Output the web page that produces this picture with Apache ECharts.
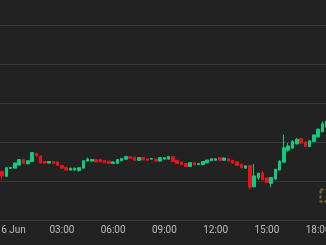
<!DOCTYPE html>
<html>
<head>
<meta charset="utf-8">
<script src="https://cdn.jsdelivr.net/npm/echarts@6/dist/echarts.min.js"></script>
<style>
html,body{margin:0;padding:0;background:#222222;}
#chart{width:326px;height:245px;}
</style>
</head>
<body>
<div id="chart"></div>
<script>
// 15-minute candles, 15 Jun 23:30 .. 16 Jun 18:30
var categories = [
"23:30","23:45",
"00:00","00:15","00:30","00:45","01:00","01:15","01:30","01:45","02:00","02:15","02:30","02:45",
"03:00","03:15","03:30","03:45","04:00","04:15","04:30","04:45","05:00","05:15","05:30","05:45",
"06:00","06:15","06:30","06:45","07:00","07:15","07:30","07:45","08:00","08:15","08:30","08:45",
"09:00","09:15","09:30","09:45","10:00","10:15","10:30","10:45","11:00","11:15","11:30","11:45",
"12:00","12:15","12:30","12:45","13:00","13:15","13:30","13:45","14:00","14:15","14:30","14:45",
"15:00","15:15","15:30","15:45","16:00","16:15","16:30","16:45","17:00","17:15","17:30","17:45",
"18:00","18:15","18:30"
];
// [open, close, low, high]
var candles = [
[12.4,11.3,10.4,12.7],[11.2,13.4,11.0,13.6],
[13.2,13.5,13.1,13.6],[13.3,14.6,13.2,14.7],[14.1,15.5,14.0,15.6],[15.5,14.5,14.4,15.6],
[14.4,15.2,14.3,15.3],[15.0,17.3,14.9,17.4],[17.1,16.4,16.3,17.2],[16.4,14.6,14.5,16.5],
[15.0,14.6,14.5,15.1],[14.6,15.0,14.5,15.1],[15.0,14.5,14.4,15.1],[14.9,14.0,13.9,15.0],
[14.0,13.3,13.2,14.1],[13.5,12.8,12.7,13.6],[12.8,13.3,12.7,13.4],[12.8,13.3,12.7,13.4],
[12.7,13.4,12.4,13.5],[13.3,15.2,13.2,15.3],[15.1,15.6,15.0,16.0],[15.1,15.5,15.0,15.6],
[15.5,14.9,14.8,15.5],[15.5,14.9,14.8,15.6],[15.3,14.7,14.6,15.3],[15.1,14.5,14.4,15.1],
[14.5,14.9,14.5,15.0],[14.5,15.5,14.5,15.6],[15.2,15.8,15.1,15.9],[15.6,16.3,15.5,16.3],
[16.2,15.8,15.8,16.3],[16.1,15.3,15.2,16.2],[15.3,16.0,15.2,16.1],[16.0,15.4,15.3,16.1],
[15.7,15.3,15.2,15.8],[15.6,15.8,15.5,15.9],[15.6,15.1,15.1,15.7],[15.1,16.0,15.0,16.0],
[15.6,16.0,15.5,16.1],[15.6,16.3,15.6,16.3],[16.2,15.0,14.9,16.3],[15.3,14.5,14.5,15.4],
[14.9,14.2,14.1,14.9],[14.5,13.7,13.6,14.6],[13.7,14.7,13.6,14.7],[14.7,14.1,14.1,14.7],
[14.2,14.5,14.1,14.5],[14.2,15.0,14.1,15.0],[14.7,15.4,14.6,15.4],[15.2,15.7,15.1,15.8],
[15.3,15.7,15.2,15.8],[16.0,15.3,15.3,16.0],[15.3,15.9,15.3,16.0],[15.7,15.1,15.0,15.8],
[15.3,14.6,14.5,15.4],[14.9,14.0,14.0,14.9],[14.3,13.4,13.3,14.4],[13.3,13.9,13.2,14.0],
[14.0,8.4,7.9,14.1],[8.5,11.3,8.4,14.4],[10.8,12.0,10.3,12.1],[12.1,10.3,10.2,12.6],
[10.8,9.6,9.5,10.9],[9.4,10.9,8.4,11.0],[10.5,13.0,10.4,13.1],[12.8,15.1,12.7,15.3],
[14.8,18.5,14.7,21.9],[17.9,19.0,17.5,19.7],[18.4,20.1,18.3,20.5],[19.5,20.7,19.4,21.0],
[20.9,19.7,19.6,21.0],[20.0,18.8,18.7,20.1],[18.8,20.3,18.7,20.4],[20.1,21.8,20.0,21.9],
[21.3,23.3,21.2,23.4],[22.6,24.7,22.6,25.3],[23.8,25.4,23.7,25.6]
];
var tickLabels = {"00:00":"16 Jun","03:00":"03:00","06:00":"06:00","09:00":"09:00","12:00":"12:00","15:00":"15:00","18:00":"18:00"};

var UP = '#0ecb81', DOWN = '#e8121a';
var chart = echarts.init(document.getElementById('chart'), null, {renderer:'canvas'});
chart.setOption({
  backgroundColor:'#222222',
  animation:false,
  grid:{left:0, right:-2.8, top:-14, bottom:25, containLabel:false, outerBoundsMode:'none'},
  xAxis:{
    type:'category',
    data:categories,
    boundaryGap:true,
    axisLine:{show:true, lineStyle:{color:'#393939', width:1}},
    axisTick:{show:false},
    splitLine:{show:false},
    axisLabel:{
      color:'#bdbdbd', fontSize:10, margin:5, fontFamily:'Roboto, "Noto Sans", sans-serif',
      hideOverlap:false,
      interval:function(i, v){ return tickLabels.hasOwnProperty(v); },
      formatter:function(v){ return tickLabels[v] || ''; }
    }
  },
  yAxis:{
    type:'value', min:0, max:60, interval:10, scale:false,
    axisLine:{show:false}, axisTick:{show:false}, axisLabel:{show:false},
    splitLine:{show:true, lineStyle:{color:'#393939', width:1}}
  },
  series:[{
    type:'candlestick',
    data:candles,
    barWidth:3,
    itemStyle:{color:UP, color0:DOWN, borderColor:UP, borderColor0:DOWN, borderWidth:1}
  }],
  graphic:[{
    type:'rect', left:318, top:187, shape:{x:0,y:0,width:10,height:12},
    style:{fill:'none', stroke:'#7f6a33', lineWidth:2, lineDash:[3,2]}, silent:true
  }]
});
</script>
</body>
</html>
